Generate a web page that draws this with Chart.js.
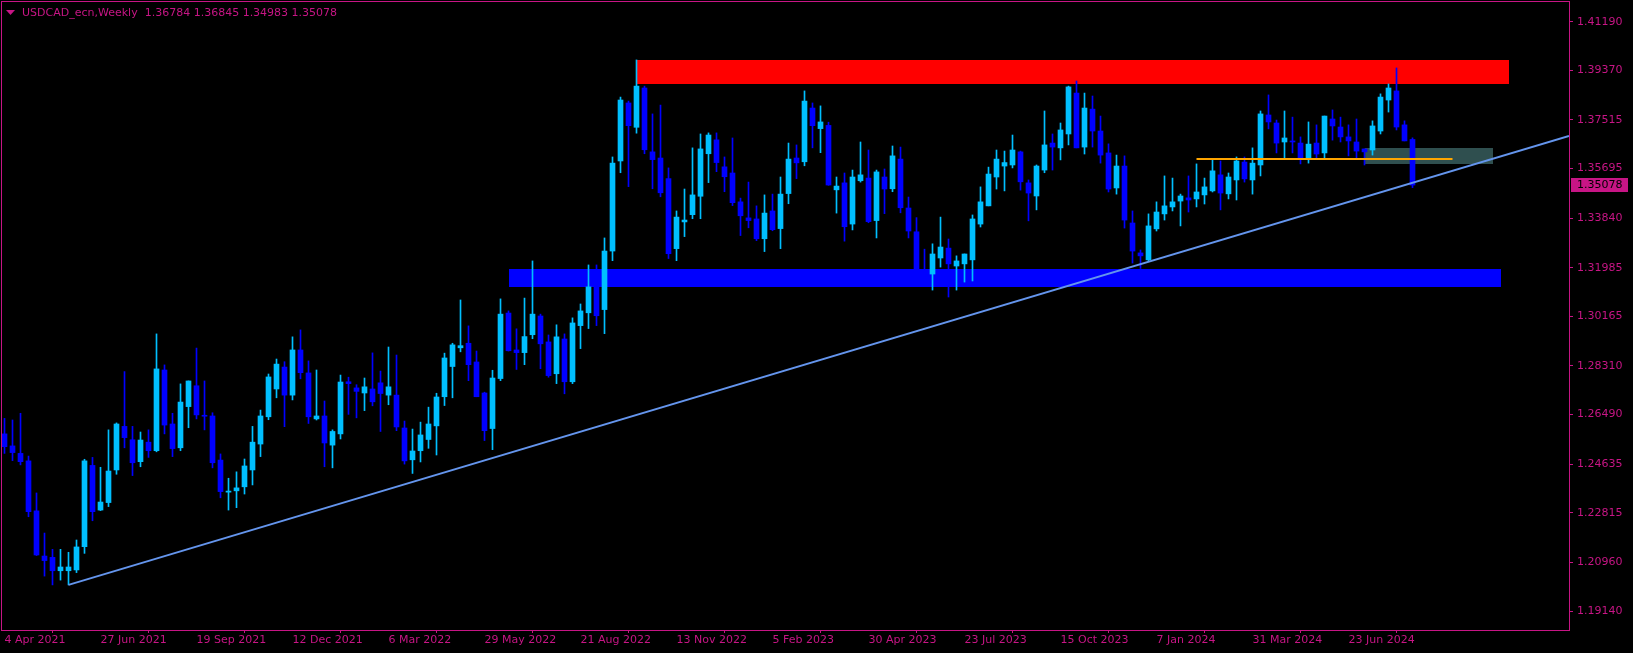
<!DOCTYPE html>
<html>
<head>
<meta charset="utf-8">
<title>USDCAD_ecn, Weekly</title>
<script src="https://cdn.jsdelivr.net/npm/chart.js@4.4.1/dist/chart.umd.min.js"></script>
<style>
  html, body { margin: 0; padding: 0; background: #000; }
  canvas { display: block; }
</style>
</head>
<body>
<canvas id="chart" width="1633" height="653"></canvas>
<script>
// Weekly candles, week 0 = 4 Apr 2021 ... week 176 = 18 Aug 2024
const opens = [
  1.2577, 1.2532, 1.2504, 1.2476, 1.2289, 1.2120, 1.2115, 1.2065, 1.2065, 1.2068,
  1.2155, 1.2459, 1.2292, 1.2320, 1.2442, 1.2605, 1.2555, 1.2473, 1.2546, 1.2514,
  1.2816, 1.2614, 1.2525, 1.2679, 1.2757, 1.2645, 1.2644, 1.2479, 1.2359, 1.2364,
  1.2379, 1.2442, 1.2539, 1.2641, 1.2745, 1.2827, 1.2722, 1.2891, 1.2805, 1.2633,
  1.2644, 1.2535, 1.2577, 1.2772, 1.2749, 1.2730, 1.2745, 1.2768, 1.2722, 1.2722,
  1.2599, 1.2480, 1.2514, 1.2556, 1.2607, 1.2716, 1.2829, 1.2899, 1.2916, 1.2846,
  1.2730, 1.2597, 1.2784, 1.3029, 1.2891, 1.2881, 1.2948, 1.3018, 1.2921, 1.2802,
  1.2932, 1.2772, 1.2982, 1.3030, 1.3127, 1.3042, 1.3261, 1.3598, 1.3815, 1.3724,
  1.3871, 1.3632, 1.3609, 1.3532, 1.3270, 1.3370, 1.3397, 1.3466, 1.3625, 1.3677,
  1.3576, 1.3553, 1.3445, 1.3385, 1.3381, 1.3307, 1.3411, 1.3345, 1.3476, 1.3609,
  1.3595, 1.3796, 1.3719, 1.3731, 1.3490, 1.3516, 1.3362, 1.3524, 1.3534, 1.3375,
  1.3538, 1.3494, 1.3605, 1.3422, 1.3333, 1.3183, 1.3175, 1.3235, 1.3272, 1.3205,
  1.3213, 1.3228, 1.3362, 1.3430, 1.3538, 1.3579, 1.3583, 1.3632, 1.3516, 1.3467,
  1.3564, 1.3665, 1.3647, 1.3699, 1.3852, 1.3650, 1.3792, 1.3710, 1.3628, 1.3497,
  1.3579, 1.3366, 1.3254, 1.3228, 1.3344, 1.3400, 1.3426, 1.3448, 1.3460, 1.3456,
  1.3471, 1.3486, 1.3546, 1.3475, 1.3527, 1.3594, 1.3527, 1.3583, 1.3770, 1.3740,
  1.3669, 1.3673, 1.3665, 1.3609, 1.3665, 1.3628, 1.3755, 1.3725, 1.3688, 1.3669,
  1.3643, 1.3639, 1.3710, 1.3826, 1.3860, 1.3733, 1.36784
];
const highs = [
  1.2635, 1.2629, 1.2654, 1.2494, 1.2356, 1.2206, 1.2145, 1.2145, 1.2134, 1.2180,
  1.2482, 1.2489, 1.2452, 1.2592, 1.2618, 1.2810, 1.2605, 1.2584, 1.2592, 1.2951,
  1.2835, 1.2654, 1.2764, 1.2775, 1.2898, 1.2775, 1.2656, 1.2502, 1.2411, 1.2435,
  1.2483, 1.2605, 1.2666, 1.2801, 1.2857, 1.2847, 1.2940, 1.2966, 1.2850, 1.2816,
  1.2700, 1.2592, 1.2797, 1.2789, 1.2761, 1.2786, 1.2880, 1.2812, 1.2902, 1.2872,
  1.2625, 1.2595, 1.2621, 1.2677, 1.2729, 1.2879, 1.2916, 1.3078, 1.2981, 1.2887,
  1.2733, 1.2815, 1.3082, 1.3037, 1.2970, 1.3085, 1.3224, 1.3025, 1.2947, 1.2985,
  1.2951, 1.3011, 1.3063, 1.3209, 1.3209, 1.3310, 1.3613, 1.3837, 1.3822, 1.3976,
  1.3878, 1.3774, 1.3807, 1.3572, 1.3411, 1.3493, 1.3647, 1.3699, 1.3703, 1.3703,
  1.3613, 1.3684, 1.3459, 1.3519, 1.3430, 1.3471, 1.3474, 1.3538, 1.3665, 1.3658,
  1.3860, 1.3815, 1.3804, 1.3743, 1.3538, 1.3553, 1.3564, 1.3669, 1.3639, 1.3564,
  1.3568, 1.3654, 1.3650, 1.3463, 1.3386, 1.3268, 1.3288, 1.3388, 1.3306, 1.3243,
  1.3250, 1.3396, 1.3501, 1.3575, 1.3639, 1.3635, 1.3695, 1.3635, 1.3527, 1.3583,
  1.3785, 1.3699, 1.3740, 1.3878, 1.3897, 1.3852, 1.3841, 1.3766, 1.3662, 1.3620,
  1.3617, 1.3411, 1.3265, 1.3400, 1.3445, 1.3542, 1.3534, 1.3474, 1.3542, 1.3587,
  1.3534, 1.3602, 1.3598, 1.3553, 1.3613, 1.3613, 1.3647, 1.3785, 1.3845, 1.3751,
  1.3785, 1.3762, 1.3688, 1.3744, 1.3733, 1.3766, 1.3789, 1.3762, 1.3733, 1.3755,
  1.3643, 1.3748, 1.3849, 1.3886, 1.3946, 1.3748, 1.36845
];
const lows = [
  1.2504, 1.2477, 1.2461, 1.2267, 1.2122, 1.2045, 1.2012, 1.2030, 1.2012, 1.2058,
  1.2130, 1.2252, 1.2290, 1.2305, 1.2426, 1.2525, 1.2421, 1.2454, 1.2489, 1.2510,
  1.2577, 1.2492, 1.2514, 1.2600, 1.2633, 1.2592, 1.2450, 1.2338, 1.2292, 1.2301,
  1.2352, 1.2386, 1.2492, 1.2630, 1.2712, 1.2604, 1.2704, 1.2783, 1.2616, 1.2629,
  1.2454, 1.2450, 1.2558, 1.2650, 1.2637, 1.2664, 1.2682, 1.2586, 1.2686, 1.2589,
  1.2464, 1.2429, 1.2472, 1.2523, 1.2498, 1.2683, 1.2712, 1.2884, 1.2776, 1.2716,
  1.2552, 1.2518, 1.2776, 1.2887, 1.2818, 1.2836, 1.2933, 1.2821, 1.2789, 1.2765,
  1.2727, 1.2765, 1.2896, 1.2971, 1.2982, 1.2952, 1.3225, 1.3554, 1.3502, 1.3702,
  1.3625, 1.3494, 1.3464, 1.3233, 1.3225, 1.3315, 1.3382, 1.3382, 1.3517, 1.3558,
  1.3483, 1.3431, 1.3319, 1.3348, 1.3300, 1.3259, 1.3337, 1.3270, 1.3438, 1.3532,
  1.3580, 1.3647, 1.3629, 1.3507, 1.3403, 1.3298, 1.3340, 1.3519, 1.3367, 1.3310,
  1.3401, 1.3483, 1.3404, 1.3310, 1.3130, 1.3130, 1.3115, 1.3201, 1.3089, 1.3115,
  1.3145, 1.3149, 1.3351, 1.3430, 1.3493, 1.3486, 1.3572, 1.3489, 1.3374, 1.3415,
  1.3554, 1.3564, 1.3602, 1.3658, 1.3647, 1.3624, 1.3650, 1.3590, 1.3482, 1.3474,
  1.3347, 1.3216, 1.3196, 1.3224, 1.3336, 1.3377, 1.3411, 1.3355, 1.3407, 1.3426,
  1.3437, 1.3482, 1.3415, 1.3456, 1.3452, 1.3519, 1.3474, 1.3542, 1.3718, 1.3628,
  1.3605, 1.3628, 1.3587, 1.3590, 1.3609, 1.3605, 1.3676, 1.3669, 1.3617, 1.3605,
  1.3583, 1.3620, 1.3699, 1.3781, 1.3714, 1.3673, 1.34983
];
const closes = [
  1.2529, 1.2507, 1.2473, 1.2286, 1.2124, 1.2103, 1.2065, 1.2079, 1.2079, 1.2154,
  1.2476, 1.2286, 1.2322, 1.2438, 1.2614, 1.2563, 1.2469, 1.2554, 1.2514, 1.2820,
  1.2610, 1.2522, 1.2696, 1.2775, 1.2648, 1.2643, 1.2469, 1.2361, 1.2363, 1.2375,
  1.2457, 1.2546, 1.2644, 1.2790, 1.2838, 1.2722, 1.2891, 1.2806, 1.2641, 1.2644,
  1.2543, 1.2586, 1.2771, 1.2765, 1.2736, 1.2753, 1.2697, 1.2728, 1.2753, 1.2603,
  1.2476, 1.2513, 1.2573, 1.2614, 1.2715, 1.2861, 1.2910, 1.2907, 1.2836, 1.2716,
  1.2589, 1.2786, 1.3025, 1.2888, 1.2881, 1.2941, 1.3025, 1.2914, 1.2795, 1.2940,
  1.2772, 1.2992, 1.3037, 1.3127, 1.3019, 1.3261, 1.3590, 1.3826, 1.3730, 1.3878,
  1.3640, 1.3603, 1.3479, 1.3251, 1.3388, 1.3377, 1.3471, 1.3643, 1.3695, 1.3592,
  1.3539, 1.3442, 1.3393, 1.3375, 1.3307, 1.3403, 1.3341, 1.3474, 1.3605, 1.3591,
  1.3822, 1.3730, 1.3744, 1.3508, 1.3504, 1.3352, 1.3538, 1.3546, 1.3371, 1.3557,
  1.3493, 1.3617, 1.3423, 1.3336, 1.3153, 1.3145, 1.3250, 1.3276, 1.3213, 1.3224,
  1.3250, 1.3381, 1.3445, 1.3549, 1.3605, 1.3592, 1.3639, 1.3520, 1.3478, 1.3579,
  1.3658, 1.3650, 1.3714, 1.3875, 1.3647, 1.3796, 1.3710, 1.3620, 1.3493, 1.3579,
  1.3377, 1.3261, 1.3243, 1.3355, 1.3407, 1.3430, 1.3445, 1.3467, 1.3452, 1.3482,
  1.3501, 1.3561, 1.3478, 1.3538, 1.3598, 1.3531, 1.3590, 1.3774, 1.3744, 1.3665,
  1.3684, 1.3669, 1.3605, 1.3661, 1.3624, 1.3766, 1.3729, 1.3688, 1.3673, 1.3635,
  1.3632, 1.3729, 1.3837, 1.3871, 1.3725, 1.3673, 1.35078
];

// axis labels
const xTickWeeks = [0, 12, 24, 36, 48, 60, 72, 84, 96, 108, 120, 132, 144, 156, 168];
const xTickLabels = ['4 Apr 2021', '27 Jun 2021', '19 Sep 2021', '12 Dec 2021', '6 Mar 2022',
  '29 May 2022', '21 Aug 2022', '13 Nov 2022', '5 Feb 2023', '30 Apr 2023', '23 Jul 2023',
  '15 Oct 2023', '7 Jan 2024', '31 Mar 2024', '23 Jun 2024'];
const yTickValues = [1.41190, 1.39370, 1.37515, 1.35695, 1.33840, 1.31985, 1.30165,
  1.28310, 1.26490, 1.24635, 1.22815, 1.20960, 1.19140];

// drawn objects: [fromWeek, toWeek, lowPrice, highPrice]
const resistanceZone = [79, 188, 1.38859, 1.39757];
const supportZone = [63, 187, 1.31265, 1.31938];
const greyBox = [170, 186, 1.35866, 1.36465];
// horizontal line: [fromWeek, toWeek, price]
const orangeLevel = [149, 181, 1.36035];
// trend line anchors: [week, price]
const trendStart = [8, 1.2012];
const trendEnd = [176, 1.3516];

const BULL = '#00BFFF';
const BEAR = '#0000FF';
const AXIS = '#C71585';
const FONT = 'DejaVu Sans';

const weeks = opens.map((_, i) => i);
const candleColors = weeks.map(i => closes[i] >= opens[i] ? BULL : BEAR);
const bodies = weeks.map(i => ({ x: i, y: [opens[i], closes[i]] }));
const wicks = weeks.map(i => ({ x: i, y: [lows[i], highs[i]] }));

function zoneRect(chart, zone, color) {
    const { ctx, scales: { x, y } } = chart;
    const x0 = Math.round(x.getPixelForValue(zone[0]));
    const x1 = Math.round(x.getPixelForValue(zone[1]));
    const y0 = Math.round(y.getPixelForValue(zone[3]));
    const y1 = Math.round(y.getPixelForValue(zone[2]));
    ctx.fillStyle = color;
    ctx.fillRect(x0, y0, x1 - x0, y1 - y0);
}

const mtObjects = {
    id: 'mtObjects',
    beforeDatasetsDraw(chart) {
        const { ctx, chartArea: a } = chart;
        ctx.save();
        ctx.beginPath();
        ctx.rect(a.left, a.top, a.right - a.left, a.bottom - a.top);
        ctx.clip();
        zoneRect(chart, resistanceZone, '#FF0000');
        zoneRect(chart, supportZone, '#0000FF');
        zoneRect(chart, greyBox, '#2F4F4F');
        ctx.restore();
    },
    afterDatasetsDraw(chart) {
        const { ctx, chartArea: a, scales: { x, y } } = chart;
        ctx.save();
        ctx.beginPath();
        ctx.rect(a.left, a.top, a.right - a.left, a.bottom - a.top);
        ctx.clip();

        // trend line, extended to the right edge
        const ax = x.getPixelForValue(trendStart[0]), ay = y.getPixelForValue(trendStart[1]);
        const bx = x.getPixelForValue(trendEnd[0]), by = y.getPixelForValue(trendEnd[1]);
        const slope = (by - ay) / (bx - ax);
        ctx.strokeStyle = '#6495ED';
        ctx.lineWidth = 2;
        ctx.beginPath();
        ctx.moveTo(ax, ay);
        ctx.lineTo(a.right, ay + slope * (a.right - ax));
        ctx.stroke();

        // orange level
        const ly = Math.round(y.getPixelForValue(orangeLevel[2]));
        ctx.strokeStyle = '#FFA500';
        ctx.lineWidth = 2;
        ctx.beginPath();
        ctx.moveTo(x.getPixelForValue(orangeLevel[0]), ly);
        ctx.lineTo(x.getPixelForValue(orangeLevel[1]), ly);
        ctx.stroke();
        ctx.restore();
    },
    afterDraw(chart) {
        const { ctx, chartArea: a, scales: { y } } = chart;
        ctx.save();
        // frame
        ctx.strokeStyle = AXIS;
        ctx.lineWidth = 1;
        ctx.strokeRect(a.left - 0.5, a.top - 0.5, a.right - a.left + 1, a.bottom - a.top + 1);

        // header
        ctx.fillStyle = AXIS;
        ctx.beginPath();
        ctx.moveTo(6, 10);
        ctx.lineTo(15, 10);
        ctx.lineTo(10.5, 15);
        ctx.closePath();
        ctx.fill();
        ctx.font = '11px "' + FONT + '"';
        ctx.textBaseline = 'middle';
        ctx.textAlign = 'left';
        const last = opens.length - 1;
        ctx.fillText('USDCAD_ecn,Weekly  ' + opens[last].toFixed(5) + ' ' + highs[last].toFixed(5) +
            ' ' + lows[last].toFixed(5) + ' ' + closes[last].toFixed(5), 22, 13);

        // last price tag
        const py = Math.round(y.getPixelForValue(closes[last]));
        ctx.fillStyle = AXIS;
        ctx.fillRect(a.right + 2, py - 7, 57, 14);
        ctx.fillStyle = '#000';
        ctx.fillText(closes[last].toFixed(5), a.right + 8, py + 0.5);
        ctx.restore();
    }
};

const ctx = document.getElementById('chart').getContext('2d');

new Chart(ctx, {
    type: 'bar',
    data: {
        datasets: [{
            label: 'body',
            data: bodies,
            backgroundColor: candleColors,
            barThickness: 5,
            minBarLength: 1,
            grouped: false,
            borderWidth: 0
        }, {
            label: 'wick',
            data: wicks,
            backgroundColor: candleColors,
            barThickness: 1,
            grouped: false,
            borderWidth: 0
        }]
    },
    options: {
        responsive: false,
        animation: false,
        devicePixelRatio: 1,
        layout: { padding: { left: 2, top: 2, right: 0, bottom: 0 } },
        plugins: {
            legend: { display: false },
            tooltip: { enabled: false }
        },
        scales: {
            x: {
                type: 'linear',
                min: -0.3125,
                max: 195.5625,
                offset: false,
                border: { display: false },
                grid: { drawOnChartArea: false, tickLength: 3, color: AXIS },
                afterBuildTicks: scale => {
                    scale.ticks = xTickWeeks.map(v => ({ value: v }));
                },
                afterFit: scale => {
                    scale.height = 23;
                    scale.paddingLeft = 0;
                    scale.paddingRight = 0;
                },
                ticks: {
                    color: AXIS,
                    font: { family: FONT, size: 11 },
                    align: 'start',
                    maxRotation: 0,
                    autoSkip: false,
                    padding: 1,
                    callback: (value, index) => xTickLabels[index]
                }
            },
            y: {
                position: 'right',
                min: 1.18433,
                max: 1.41927,
                border: { display: false },
                grid: { drawOnChartArea: false, tickLength: 4, color: AXIS },
                afterBuildTicks: scale => {
                    scale.ticks = yTickValues.map(v => ({ value: v }));
                },
                afterFit: scale => {
                    scale.width = 64;
                    scale.paddingTop = 0;
                    scale.paddingBottom = 0;
                },
                ticks: {
                    color: AXIS,
                    font: { family: FONT, size: 11 },
                    padding: 4,
                    autoSkip: false,
                    callback: value => value.toFixed(5)
                }
            }
        }
    },
    plugins: [mtObjects]
});
</script>
</body>
</html>
